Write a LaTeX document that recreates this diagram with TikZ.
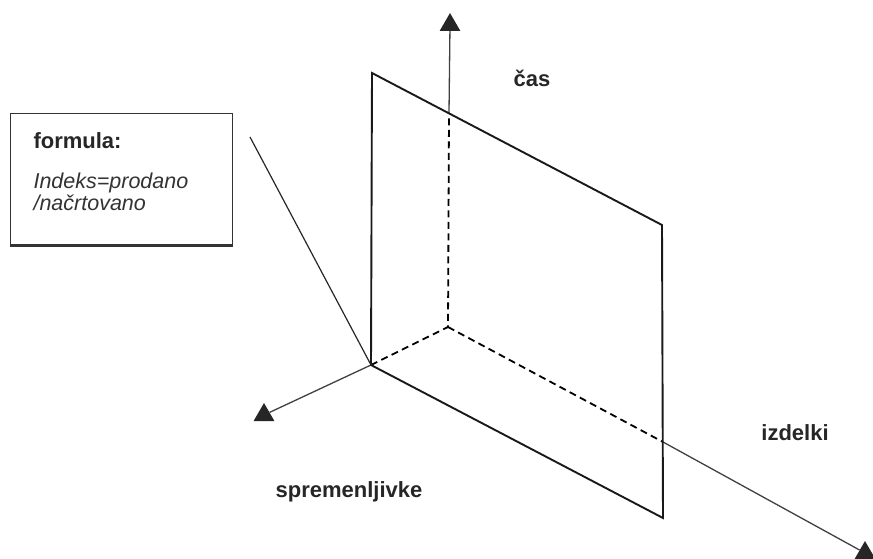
\documentclass[tikz,border=0pt]{standalone}
\usepackage{fontspec}
\setmainfont{Liberation Sans}
\usetikzlibrary{shapes.geometric}

\tikzset{
  axis/.style={line width=1.3pt, black!75},
  hidden/.style={line width=1.8pt, dash pattern=on 7pt off 4.5pt},
  plane/.style={line width=1.9pt, black!90},
  tipmark/.style={regular polygon, regular polygon sides=3, fill=black!85, inner sep=0pt, minimum size=24pt},
  lbl/.style={font=\fontsize{22}{22}\selectfont\bfseries, text=black!85},
  formtext/.style={font=\fontsize{21.5}{21.5}\selectfont\itshape, text=black!80},
}

\begin{document}
\begin{tikzpicture}[x=1pt,y=-1pt]
\useasboundingbox (0,0) rectangle (873,559);
% plane corners and crossings
\coordinate (o) at (448,327);
\coordinate (a) at (371,365);
\coordinate (b) at (372,73);
\coordinate (c) at (662,225);
\coordinate (d) at (663,518);
\coordinate (ct) at (449,113);
\coordinate (ci) at (663,442);
% axis ends
\node[tipmark] (cas) at (450,25) {};
\node[tipmark] (spr) at (264,415) {};
\node[tipmark] (izd) at (865,553) {};
% axes
\draw[axis] (ct) -- (cas);
\draw[axis] (a) -- (spr);
\draw[axis] (ci) -- (izd);
\draw[hidden] (a) -- (o) -- (ct);
\draw[hidden] (o) -- (ci);
% plane
\draw[plane] (a) -- (b) -- (c) -- (d) -- cycle;
% formula box
\node[draw, line width=1.3pt, black!80, minimum width=222pt, minimum height=131pt, anchor=north west] (box) at (10,113) {};
\draw[line width=2.6pt, black!80] (box.south west) -- (box.south east);
\node[lbl, anchor=west] (frm) at (30,141) {formula:};
\node[formtext, anchor=base west] (idx) at (30,189) {Indeks=prodano};
\node[formtext, anchor=base west] (nac) at (30,210) {/načrtovano};
\coordinate (f) at (250,137);
\draw[line width=1.2pt, black!85] (f) -- (a);
% axis labels
\node[lbl] (lcas) at (532,78) {čas};
\node[lbl] (lizd) at (795,433) {izdelki};
\node[lbl] (lspr) at (349,492) {spremenljivke};
\end{tikzpicture}
\end{document}
